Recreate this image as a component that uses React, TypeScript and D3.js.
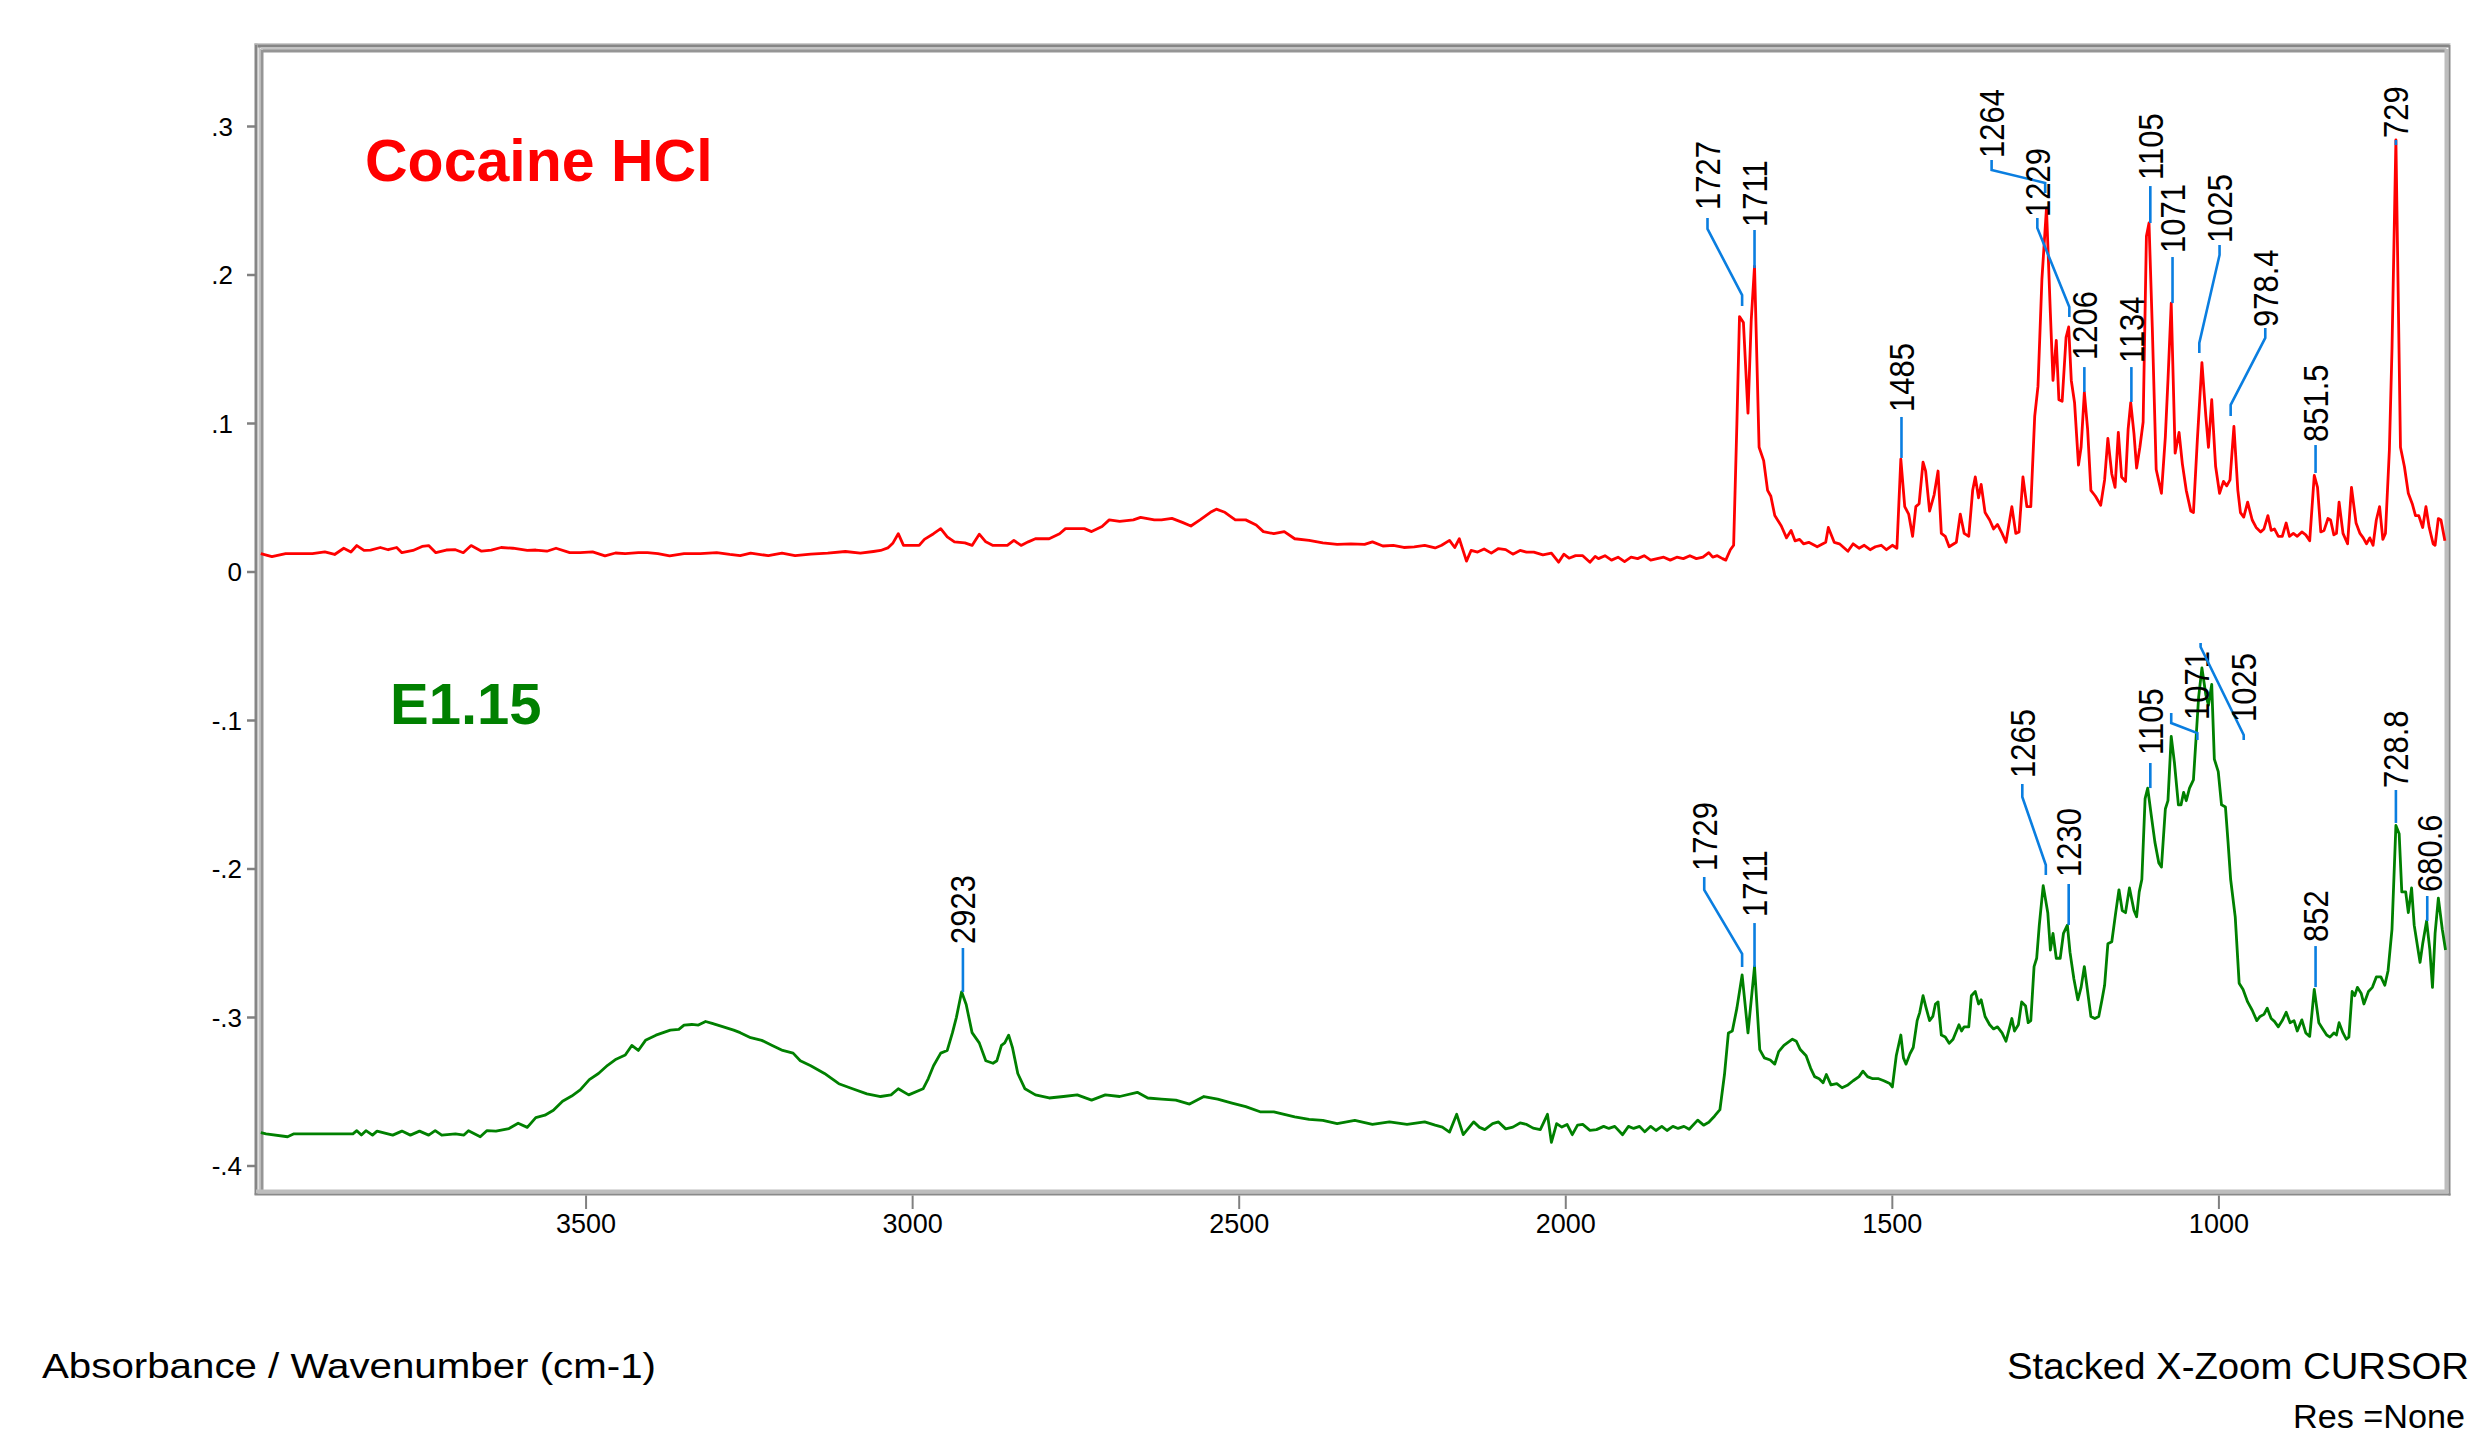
import * as d3 from "d3";

type Pt = [number, number]; // [wavenumber cm-1, absorbance]

// Cocaine HCl spectrum (red)
const cocaineSpectrum: Pt[] = [
  [3998, 0.0124], [3981, 0.0103], [3960, 0.0124], [3935, 0.0124], [3919, 0.0124], [3900, 0.0135],
  [3885, 0.0118], [3871, 0.016], [3860, 0.0135], [3851, 0.0178], [3840, 0.0145], [3830, 0.0148],
  [3815, 0.0165], [3803, 0.015], [3790, 0.0165], [3782, 0.013], [3765, 0.0145], [3751, 0.0172],
  [3741, 0.0178], [3730, 0.013], [3714, 0.0148], [3700, 0.015], [3688, 0.013], [3676, 0.0178],
  [3660, 0.014], [3645, 0.0148], [3630, 0.0165], [3612, 0.016], [3590, 0.0145], [3577, 0.0148],
  [3560, 0.014], [3546, 0.016], [3525, 0.013], [3509, 0.013], [3490, 0.0135], [3471, 0.0109],
  [3455, 0.0128], [3440, 0.0124], [3420, 0.013], [3406, 0.013], [3390, 0.0124], [3372, 0.0109],
  [3350, 0.0124], [3325, 0.0124], [3300, 0.013], [3280, 0.0118], [3264, 0.011], [3248, 0.0127],
  [3221, 0.011], [3200, 0.0127], [3180, 0.011], [3156, 0.012], [3130, 0.0127], [3103, 0.0138],
  [3080, 0.0127], [3060, 0.0138], [3049, 0.0145], [3038, 0.0162], [3030, 0.0196], [3022, 0.0258],
  [3014, 0.0179], [3006, 0.0179], [2990, 0.0179], [2982, 0.022], [2968, 0.0258], [2957, 0.0292],
  [2947, 0.0237], [2936, 0.0203], [2920, 0.0196], [2909, 0.0179], [2898, 0.0255], [2888, 0.0203],
  [2877, 0.0179], [2855, 0.0179], [2845, 0.0213], [2834, 0.0179], [2823, 0.0203], [2812, 0.0224],
  [2791, 0.0224], [2775, 0.0258], [2766, 0.0292], [2737, 0.0292], [2726, 0.0272], [2710, 0.0306],
  [2699, 0.0351], [2683, 0.0341], [2662, 0.0351], [2651, 0.0368], [2630, 0.0351], [2619, 0.0351],
  [2603, 0.0361], [2587, 0.0334], [2574, 0.031], [2560, 0.0351], [2544, 0.0402], [2535, 0.0423],
  [2522, 0.0402], [2506, 0.0351], [2490, 0.0351], [2474, 0.0317], [2463, 0.0272], [2447, 0.0258],
  [2431, 0.0272], [2415, 0.0224], [2393, 0.0213], [2372, 0.0196], [2350, 0.0186], [2329, 0.019],
  [2308, 0.0186], [2296, 0.0203], [2280, 0.0175], [2264, 0.0179], [2248, 0.0165], [2232, 0.0169],
  [2216, 0.0179], [2200, 0.0162], [2190, 0.018], [2178, 0.0213], [2170, 0.0165], [2163, 0.0224],
  [2152, 0.0073], [2145, 0.0145], [2135, 0.0134], [2125, 0.0155], [2114, 0.0127], [2103, 0.0158],
  [2092, 0.0151], [2081, 0.012], [2070, 0.0145], [2060, 0.0134], [2049, 0.0134], [2035, 0.0115],
  [2022, 0.0127], [2011, 0.0066], [2003, 0.012], [1995, 0.0093], [1985, 0.011], [1974, 0.011],
  [1963, 0.0066], [1955, 0.0105],
  [1950, 0.009], [1940, 0.011], [1930, 0.008], [1920, 0.01], [1910, 0.007], [1900, 0.01],
  [1890, 0.009], [1880, 0.011], [1870, 0.008], [1860, 0.009], [1850, 0.01], [1840, 0.008],
  [1830, 0.01], [1820, 0.009], [1810, 0.011], [1800, 0.009], [1790, 0.01], [1781, 0.013],
  [1775, 0.01], [1768, 0.011], [1760, 0.009], [1755, 0.008], [1748, 0.015], [1743, 0.018],
  [1738, 0.1], [1734, 0.172], [1728, 0.168], [1721, 0.107], [1716, 0.17], [1711, 0.206],
  [1704, 0.084], [1697, 0.075], [1691, 0.055], [1686, 0.051], [1680, 0.038], [1670, 0.031],
  [1662, 0.023], [1655, 0.028], [1649, 0.021], [1642, 0.022], [1636, 0.019], [1628, 0.02],
  [1615, 0.017], [1602, 0.02], [1598, 0.03], [1589, 0.02], [1581, 0.019], [1568, 0.014],
  [1560, 0.019], [1551, 0.016], [1543, 0.018], [1534, 0.015], [1526, 0.017], [1517, 0.018],
  [1509, 0.015], [1500, 0.018], [1493, 0.016], [1487, 0.076], [1481, 0.044], [1475, 0.039],
  [1469, 0.024], [1464, 0.044], [1459, 0.046], [1453, 0.074], [1449, 0.068], [1443, 0.041],
  [1436, 0.052], [1430, 0.068], [1425, 0.026], [1419, 0.024], [1413, 0.017], [1402, 0.02],
  [1396, 0.039], [1390, 0.026], [1383, 0.024], [1377, 0.055], [1373, 0.064], [1368, 0.05],
  [1364, 0.059], [1358, 0.04], [1351, 0.035], [1345, 0.029], [1339, 0.032], [1332, 0.026],
  [1326, 0.02], [1317, 0.044], [1311, 0.026], [1306, 0.027], [1300, 0.064], [1294, 0.044],
  [1288, 0.044], [1282, 0.105], [1277, 0.125], [1271, 0.197], [1264, 0.245], [1258, 0.174],
  [1254, 0.129], [1249, 0.156], [1245, 0.116], [1240, 0.115], [1234, 0.158], [1230, 0.165],
  [1226, 0.129], [1221, 0.114], [1215, 0.072], [1211, 0.084], [1206, 0.121], [1201, 0.096],
  [1196, 0.055], [1189, 0.051], [1181, 0.045], [1175, 0.062], [1170, 0.09], [1164, 0.066],
  [1159, 0.057], [1154, 0.094], [1149, 0.064], [1143, 0.061], [1139, 0.096], [1135, 0.114],
  [1130, 0.093], [1126, 0.07], [1121, 0.084], [1116, 0.101], [1111, 0.226], [1107, 0.235],
  [1102, 0.165], [1096, 0.069], [1088, 0.053], [1082, 0.091], [1078, 0.129], [1073, 0.181],
  [1067, 0.08], [1061, 0.094], [1056, 0.073], [1050, 0.055], [1043, 0.041], [1039, 0.04],
  [1033, 0.089], [1026, 0.141], [1020, 0.105], [1016, 0.084], [1011, 0.116], [1005, 0.071],
  [999, 0.053], [993, 0.061], [988, 0.058], [983, 0.062], [977, 0.098], [971, 0.055],
  [967, 0.04], [962, 0.037], [956, 0.047], [949, 0.035], [943, 0.03], [936, 0.027],
  [931, 0.029], [925, 0.038], [920, 0.028], [915, 0.029], [909, 0.024], [903, 0.024],
  [897, 0.033], [892, 0.024], [886, 0.026], [880, 0.024], [873, 0.027], [867, 0.025],
  [861, 0.021], [854, 0.065], [849, 0.057], [844, 0.027], [839, 0.028], [833, 0.036],
  [829, 0.035], [824, 0.025], [820, 0.026], [816, 0.047], [810, 0.026], [803, 0.019],
  [797, 0.057], [790, 0.033], [784, 0.026], [779, 0.023], [774, 0.019], [769, 0.023],
  [764, 0.018], [759, 0.035], [754, 0.044], [749, 0.022], [745, 0.026], [739, 0.082],
  [735, 0.15], [729, 0.291], [722, 0.084], [716, 0.071], [710, 0.053], [704, 0.046],
  [699, 0.038], [694, 0.038], [688, 0.03], [683, 0.044], [678, 0.03], [672, 0.019],
  [669, 0.018], [664, 0.036], [660, 0.035], [654, 0.021],
];

// E1.15 spectrum (green)
const e115Spectrum: Pt[] = [
  [3998, -0.3776], [3990, -0.3784], [3957, -0.3803], [3948, -0.3784], [3900, -0.3784], [3857, -0.3784],
  [3851, -0.3762], [3844, -0.3792], [3837, -0.3762], [3827, -0.3792], [3820, -0.3765], [3796, -0.3792],
  [3782, -0.3765], [3769, -0.3792], [3755, -0.3765], [3741, -0.3792], [3731, -0.3762], [3721, -0.3792],
  [3700, -0.3784], [3687, -0.3792], [3680, -0.3762], [3662, -0.3803], [3652, -0.3762], [3638, -0.3765],
  [3618, -0.3748], [3604, -0.3712], [3590, -0.374], [3577, -0.3674], [3563, -0.3658], [3550, -0.3625],
  [3536, -0.3564], [3522, -0.3529], [3509, -0.3487], [3495, -0.3418], [3481, -0.3377], [3467, -0.3322],
  [3454, -0.3281], [3440, -0.3253], [3430, -0.3188], [3420, -0.3222], [3409, -0.3154], [3393, -0.3119],
  [3371, -0.3085], [3358, -0.308], [3350, -0.3051], [3338, -0.3047], [3328, -0.3051], [3317, -0.3027],
  [3307, -0.304], [3291, -0.3061], [3274, -0.3085], [3264, -0.3102], [3248, -0.3136], [3231, -0.3154],
  [3215, -0.3188], [3199, -0.3222], [3183, -0.324], [3172, -0.3291], [3156, -0.3325], [3135, -0.3377],
  [3113, -0.3446], [3092, -0.348], [3070, -0.3514], [3049, -0.3532], [3033, -0.3521], [3022, -0.348],
  [3006, -0.3521], [2984, -0.348], [2976, -0.3411], [2968, -0.3325], [2957, -0.324], [2947, -0.3222],
  [2939, -0.3102], [2933, -0.2999], [2925, -0.2827], [2918, -0.2913], [2909, -0.3102], [2898, -0.3171],
  [2888, -0.3291], [2877, -0.3308], [2871, -0.3291], [2864, -0.3188], [2859, -0.3171], [2853, -0.3119],
  [2847, -0.3205], [2839, -0.3377], [2828, -0.348], [2812, -0.3521], [2791, -0.3542], [2769, -0.3532],
  [2748, -0.3521], [2726, -0.3556], [2705, -0.3521], [2683, -0.3532], [2656, -0.3504], [2640, -0.3542],
  [2619, -0.3549], [2597, -0.3556], [2576, -0.3583], [2554, -0.3532], [2533, -0.3549], [2511, -0.3576],
  [2490, -0.36], [2468, -0.3635], [2447, -0.3635], [2431, -0.3652], [2415, -0.3669], [2393, -0.3686],
  [2372, -0.3693], [2350, -0.3714], [2323, -0.3693], [2296, -0.372], [2270, -0.3703], [2243, -0.372],
  [2216, -0.3703], [2200, -0.3725], [2189, -0.3738], [2178, -0.3772], [2167, -0.3652], [2157, -0.3789],
  [2141, -0.3703], [2132, -0.374], [2124, -0.3755], [2112, -0.3715], [2103, -0.3703], [2092, -0.375],
  [2081, -0.3738], [2070, -0.371], [2060, -0.372], [2050, -0.3745], [2039, -0.3755], [2028, -0.3652],
  [2022, -0.3841], [2014, -0.3715], [2006, -0.3738], [1998, -0.372], [1990, -0.3789], [1982, -0.3725],
  [1974, -0.372], [1963, -0.376], [1953, -0.3755],
  [1942, -0.3733], [1934, -0.3747], [1925, -0.3733], [1913, -0.3789], [1904, -0.3733], [1896, -0.3747],
  [1887, -0.3733], [1879, -0.377], [1870, -0.3733], [1862, -0.3761], [1853, -0.3733], [1845, -0.3761],
  [1836, -0.3733], [1828, -0.3747], [1819, -0.3733], [1811, -0.3753], [1798, -0.3691], [1789, -0.3725],
  [1781, -0.3705], [1772, -0.3663], [1764, -0.3621], [1757, -0.3384], [1751, -0.3104], [1745, -0.3091],
  [1738, -0.2937], [1730, -0.2713], [1721, -0.3104], [1711, -0.2657], [1703, -0.3216], [1696, -0.3272],
  [1687, -0.3286], [1680, -0.3314], [1674, -0.323], [1666, -0.3188], [1653, -0.3146], [1647, -0.316],
  [1641, -0.3216], [1632, -0.3258], [1625, -0.3342], [1619, -0.3398], [1612, -0.3412], [1606, -0.344],
  [1601, -0.3384], [1594, -0.3454], [1585, -0.3445], [1577, -0.3473], [1568, -0.3454], [1560, -0.3426],
  [1551, -0.3398], [1545, -0.3361], [1538, -0.3398], [1530, -0.3412], [1521, -0.3412], [1513, -0.3426],
  [1504, -0.3445], [1500, -0.3468], [1494, -0.3258], [1487, -0.3118], [1483, -0.3272], [1479, -0.3314],
  [1473, -0.3244], [1468, -0.3202], [1462, -0.3021], [1458, -0.2965], [1453, -0.2853], [1449, -0.2923],
  [1443, -0.3021], [1438, -0.2993], [1434, -0.2909], [1430, -0.2895], [1425, -0.3118], [1419, -0.3132],
  [1413, -0.3174], [1407, -0.3146], [1398, -0.3049], [1394, -0.3091], [1390, -0.3063], [1383, -0.3063],
  [1379, -0.2853], [1373, -0.2825], [1368, -0.2909], [1364, -0.2881], [1358, -0.2993], [1351, -0.3049],
  [1345, -0.3077], [1339, -0.3063], [1332, -0.3104], [1326, -0.316], [1317, -0.3007], [1313, -0.3091],
  [1307, -0.3049], [1302, -0.2895], [1296, -0.2923], [1292, -0.3035], [1288, -0.3021], [1283, -0.2657],
  [1279, -0.2601], [1275, -0.2378], [1269, -0.2112], [1262, -0.2294], [1258, -0.2546], [1254, -0.2434],
  [1249, -0.2601], [1243, -0.2601], [1238, -0.2434], [1232, -0.2378], [1228, -0.256], [1222, -0.2741],
  [1216, -0.2881], [1211, -0.2797], [1206, -0.2657], [1201, -0.2825], [1196, -0.2993], [1190, -0.3007],
  [1184, -0.2993], [1179, -0.2881], [1175, -0.2783], [1170, -0.2504], [1164, -0.249], [1158, -0.2294],
  [1153, -0.214], [1148, -0.228], [1143, -0.2294], [1137, -0.2127], [1130, -0.228], [1126, -0.2322],
  [1122, -0.2154], [1118, -0.2071], [1113, -0.1526], [1109, -0.1456], [1104, -0.1624], [1098, -0.1819],
  [1092, -0.1959], [1088, -0.1987], [1082, -0.1596], [1078, -0.154], [1073, -0.1107], [1068, -0.1288],
  [1062, -0.1568], [1058, -0.1568], [1054, -0.1484], [1050, -0.154], [1045, -0.1456], [1039, -0.14],
  [1035, -0.1121], [1031, -0.0841], [1026, -0.0646], [1020, -0.0827], [1016, -0.0897], [1011, -0.0757],
  [1007, -0.126], [1001, -0.1344], [996, -0.1568], [990, -0.1582], [986, -0.1819], [982, -0.2071],
  [975, -0.2322], [969, -0.2769], [963, -0.2811], [956, -0.2895], [949, -0.2951], [942, -0.3021],
  [937, -0.2993], [931, -0.2979], [926, -0.2937], [920, -0.3007], [915, -0.3026], [909, -0.3063],
  [903, -0.3021], [897, -0.2965], [891, -0.3035], [885, -0.3021], [880, -0.3091], [873, -0.3016],
  [867, -0.3104], [861, -0.3127], [854, -0.2811], [847, -0.3035], [841, -0.3077], [835, -0.3118],
  [830, -0.3132], [824, -0.3104], [820, -0.3118], [816, -0.3035], [810, -0.3104], [805, -0.3146],
  [801, -0.3132], [796, -0.2825], [792, -0.2853], [788, -0.2797], [782, -0.2839], [778, -0.2909],
  [771, -0.2825], [765, -0.2797], [759, -0.2727], [752, -0.2727], [746, -0.2783], [741, -0.2685],
  [735, -0.2406], [729, -0.1707], [724, -0.1763], [720, -0.2154], [714, -0.2154], [710, -0.2294],
  [705, -0.2127], [701, -0.2378], [696, -0.2518], [692, -0.2629], [688, -0.2504], [682, -0.235],
  [677, -0.2546], [673, -0.2797], [669, -0.2434], [664, -0.2196], [658, -0.2406], [653, -0.2546],
];

const yTickValues = [0.3, 0.2, 0.1, 0, -0.1, -0.2, -0.3, -0.4];
const yTickLabels = [".3", ".2", ".1", "0", "-.1", "-.2", "-.3", "-.4"];
const xTickValues = [3500, 3000, 2500, 2000, 1500, 1000];

// peak annotations: text anchor (wavenumber, absorbance at text foot) + leader polyline
interface PeakLabel {
  text: string;
  tw: number;
  tv: number;
  leader: Pt[];
}

const cocainePeaks: PeakLabel[] = [
  { text: "1727", tw: 1783, tv: 0.2438, leader: [[1783, 0.2384], [1783, 0.231], [1730, 0.1865], [1730, 0.1791]] },
  { text: "1711", tw: 1711, tv: 0.2323, leader: [[1711, 0.2303], [1711, 0.2047]] },
  { text: "1485", tw: 1486, tv: 0.1077, leader: [[1486, 0.1044], [1486, 0.0768]] },
  { text: "1264", tw: 1348, tv: 0.2788, leader: [[1348, 0.2774], [1348, 0.2707], [1266, 0.262], [1266, 0.2552]] },
  { text: "1229", tw: 1278, tv: 0.2391, leader: [[1278, 0.2384], [1278, 0.2316], [1229, 0.1785], [1229, 0.1717]] },
  { text: "1206", tw: 1206, tv: 0.1428, leader: [[1206, 0.138], [1206, 0.1212]] },
  { text: "1134", tw: 1134, tv: 0.1407, leader: [[1134, 0.138], [1134, 0.1145]] },
  { text: "1105", tw: 1105, tv: 0.264, leader: [[1105, 0.2599], [1105, 0.235]] },
  { text: "1071", tw: 1071, tv: 0.2148, leader: [[1071, 0.2121], [1071, 0.1811]] },
  { text: "1025", tw: 999, tv: 0.2215, leader: [[999, 0.2202], [999, 0.2135], [1030, 0.1542], [1030, 0.1475]] },
  { text: "978.4", tw: 929, tv: 0.165, leader: [[929, 0.1643], [929, 0.1576], [982, 0.1125], [982, 0.1051]] },
  { text: "851.5", tw: 852, tv: 0.0875, leader: [[852, 0.0855], [852, 0.0667]] },
  { text: "729", tw: 729, tv: 0.2923, leader: [[729, 0.2909], [729, 0.2875]] },
];

const e115Peaks: PeakLabel[] = [
  { text: "2923", tw: 2923, tv: -0.2505, leader: [[2923, -0.2532], [2923, -0.2828]] },
  { text: "1729", tw: 1788, tv: -0.2013, leader: [[1788, -0.2054], [1788, -0.2141], [1730, -0.2572], [1730, -0.266]] },
  { text: "1711", tw: 1711, tv: -0.2323, leader: [[1711, -0.2364], [1711, -0.266]] },
  { text: "1265", tw: 1301, tv: -0.1387, leader: [[1301, -0.1428], [1301, -0.1515], [1265, -0.1973], [1265, -0.204]] },
  { text: "1230", tw: 1230, tv: -0.2054, leader: [[1230, -0.2101], [1230, -0.2377]] },
  { text: "1105", tw: 1105, tv: -0.1232, leader: [[1105, -0.1286], [1105, -0.1455]] },
  { text: "1071", tw: 1035, tv: -0.0997, leader: [[1073, -0.0949], [1073, -0.1017], [1033, -0.1085], [1033, -0.1131]] },
  { text: "1025", tw: 962, tv: -0.101, leader: [[1028, -0.0478], [1028, -0.0505], [962, -0.1098], [962, -0.1131]] },
  { text: "852", tw: 852, tv: -0.2492, leader: [[852, -0.2519], [852, -0.2795]] },
  { text: "728.8", tw: 729, tv: -0.1455, leader: [[729, -0.1468], [729, -0.169]] },
  { text: "680.6", tw: 678, tv: -0.2155, leader: [[681, -0.2182], [681, -0.235]] },
];

const WIDTH = 2471;
const HEIGHT = 1440;
const FONT = "'Liberation Sans', Arial, Helvetica, sans-serif";
const LEADER = "#0a7ee0";

export default function App() {
  const x = d3.scaleLinear().domain([4000, 650]).range([259.5, 2447.5]);
  const y = d3.scaleLinear().domain([-0.4, 0.3]).range([1166, 126.5]);

  const lineGen = d3
    .line<Pt>()
    .x((d) => x(d[0]))
    .y((d) => y(d[1]));

  const frameL = 256, frameT = 45, frameR = 2449.5, frameB = 1194.5;

  const renderPeaks = (peaks: PeakLabel[], prefix: string) =>
    peaks.map((p) => (
      <g key={prefix + p.text}>
        <path d={lineGen(p.leader) ?? ""} fill="none" stroke={LEADER} strokeWidth={2.6} />
        <text
          transform={`translate(${x(p.tw) + 12.5},${y(p.tv)}) rotate(-90) scale(1,1.12)`}
          fontSize={31}
          fontFamily={FONT}
          fill="#000"
        >
          {p.text}
        </text>
      </g>
    ));

  return (
    <svg
      width={WIDTH}
      height={HEIGHT}
      style={{ position: "absolute", left: 0, top: 0, background: "#fff" }}
    >
      <rect width={WIDTH} height={HEIGHT} fill="#fff" />

      {/* frame, drawn as the grey bevelled box */}
      <g fill="none">
        <line x1={frameL} y1={frameT - 1.5} x2={frameL} y2={frameB} stroke="#858585" strokeWidth={3} />
        <line x1={frameL + 3.5} y1={frameT + 2} x2={frameL + 3.5} y2={frameB - 3} stroke="#c4c4c4" strokeWidth={2} />
        <line x1={frameL + 6} y1={frameT + 4} x2={frameL + 6} y2={frameB - 3} stroke="#959595" strokeWidth={3} />
        <line x1={frameL - 1.5} y1={frameT - 1} x2={frameR + 1} y2={frameT - 1} stroke="#bdbdbd" strokeWidth={1.5} />
        <line x1={frameL + 1.5} y1={frameT + 1} x2={frameR} y2={frameT + 1} stroke="#858585" strokeWidth={3} />
        <line x1={frameL + 5} y1={frameT + 4} x2={frameR - 3} y2={frameT + 4} stroke="#c4c4c4" strokeWidth={2} />
        <line x1={frameL + 7} y1={frameT + 6} x2={frameR - 3} y2={frameT + 6} stroke="#959595" strokeWidth={3} />
        <line x1={frameR - 3} y1={frameT + 4} x2={frameR - 3} y2={frameB - 2} stroke="#bdbdbd" strokeWidth={4} />
        <line x1={frameR} y1={frameT} x2={frameR} y2={frameB + 1} stroke="#8a8a8a" strokeWidth={2} />
        <line x1={frameL} y1={frameB - 3} x2={frameR - 1} y2={frameB - 3} stroke="#bdbdbd" strokeWidth={4} />
        <line x1={frameL - 1.5} y1={frameB} x2={frameR + 1} y2={frameB} stroke="#8a8a8a" strokeWidth={2} />
      </g>

      {/* y axis ticks */}
      <g fontFamily={FONT} fontSize={26} fill="#000">
        {yTickValues.map((v, i) => (
          <g key={"yt" + v}>
            <line x1={247} x2={frameL} y1={y(v)} y2={y(v)} stroke="#808080" strokeWidth={2.5} />
            <text x={v > 0 ? 233 : 242} y={y(v)} dy="0.36em" textAnchor="end">
              {yTickLabels[i]}
            </text>
          </g>
        ))}
      </g>

      {/* x axis ticks */}
      <g fontFamily={FONT} fontSize={27} fill="#000">
        {xTickValues.map((v) => (
          <g key={"xt" + v}>
            <line x1={x(v)} x2={x(v)} y1={frameB + 1} y2={1209} stroke="#808080" strokeWidth={2} />
            <text x={x(v)} y={1233} textAnchor="middle">
              {v}
            </text>
          </g>
        ))}
      </g>

      {/* spectra */}
      <path d={lineGen(cocaineSpectrum) ?? ""} fill="none" stroke="#ff0000" strokeWidth={2.8} strokeLinejoin="round" />
      <path d={lineGen(e115Spectrum) ?? ""} fill="none" stroke="#008000" strokeWidth={2.8} strokeLinejoin="round" />

      {renderPeaks(cocainePeaks, "c")}
      {renderPeaks(e115Peaks, "e")}

      {/* sample names */}
      <text x={365} y={181} fontFamily={FONT} fontWeight="bold" fontSize={59} fill="#ff0000">
        Cocaine HCl
      </text>
      <text x={390} y={724} fontFamily={FONT} fontWeight="bold" fontSize={58} fill="#008000">
        E1.15
      </text>

      {/* footer */}
      <text x={42} y={1378} fontFamily={FONT} fontSize={35} textLength={614} lengthAdjust="spacingAndGlyphs">
        Absorbance / Wavenumber (cm-1)
      </text>
      <text x={2007} y={1379} fontFamily={FONT} fontSize={36} textLength={462} lengthAdjust="spacingAndGlyphs">
        Stacked X-Zoom CURSOR
      </text>
      <text x={2293} y={1428} fontFamily={FONT} fontSize={34} textLength={172} lengthAdjust="spacingAndGlyphs">
        Res =None
      </text>
    </svg>
  );
}
